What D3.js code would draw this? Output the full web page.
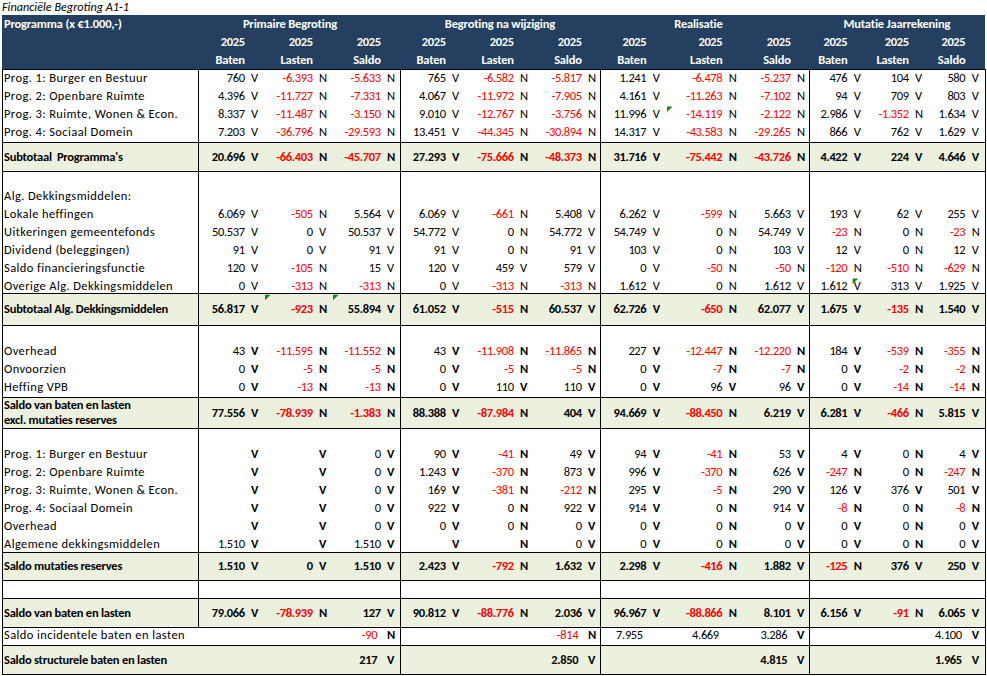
<!DOCTYPE html>
<html><head><meta charset="utf-8">
<script src="https://cdn.jsdelivr.net/npm/d3@7"></script>
<style>
html,body{margin:0;padding:0;background:#fff;}
svg{display:block;}
text{white-space:pre;}
</style></head><body>
<svg id="chart" width="987" height="676"></svg>
<script>
// ---------------- DATA ----------------
const title = "Financiële Begroting A1-1";
const headerLabel = "Programma (x €1.000,-)";
const groups = ["Primaire Begroting", "Begroting na wijziging", "Realisatie", "Mutatie Jaarrekening"];
const yearLabels = ["2025", "2025", "2025"];
const subHeaders = ["Baten", "Lasten", "Saldo"];

const rowLabels = [
  "Prog. 1: Burger en Bestuur", "Prog. 2: Openbare Ruimte", "Prog. 3: Ruimte, Wonen & Econ.", "Prog. 4: Sociaal Domein",
  "Subtotaal  Programma's", "",
  "Alg. Dekkingsmiddelen:", "Lokale heffingen", "Uitkeringen gemeentefonds", "Dividend (beleggingen)",
  "Saldo financieringsfunctie", "Overige Alg. Dekkingsmiddelen", "Subtotaal Alg. Dekkingsmiddelen", "",
  "Overhead", "Onvoorzien", "Heffing VPB", "Saldo van baten en lasten\nexcl. mutaties reserves", "",
  "Prog. 1: Burger en Bestuur", "Prog. 2: Openbare Ruimte", "Prog. 3: Ruimte, Wonen & Econ.", "Prog. 4: Sociaal Domein",
  "Overhead", "Algemene dekkingsmiddelen", "Saldo mutaties reserves", "",
  "Saldo van baten en lasten", "Saldo incidentele baten en lasten", "Saldo structurele baten en lasten"
];
// s = subtotal (bold, shaded, bordered), n = normal, b = blank
const rowKinds = ["n","n","n","n","s","b","n","n","n","n","n","n","s","b","n","n","n","s","b","n","n","n","n","n","n","s","b","s","n","s"];

// Primaire Begroting
const primaireBaten  = [760,4396,8337,7203,20696,null,null,6069,50537,91,120,0,56817,null,43,0,0,77556,null,null,null,null,null,null,1510,1510,null,79066,null,null];
const primaireBatenMk= ["V","V","V","V","V",null,null,"V","V","V","V","V","V",null,"V","V","V","V",null,"V","V","V","V","V","V","V",null,"V",null,null];
const primaireLasten = [-6393,-11727,-11487,-36796,-66403,null,null,-505,0,0,-105,-313,-923,null,-11595,-5,-13,-78939,null,null,null,null,null,null,null,0,null,-78939,null,null];
const primaireLastenMk=["N","N","N","N","N",null,null,"N","V","V","N","N","N",null,"N","N","N","N",null,"V","V","V","V","V","V","V",null,"N",null,null];
const primaireSaldo  = [-5633,-7331,-3150,-29593,-45707,null,null,5564,50537,91,15,-313,55894,null,-11552,-5,-13,-1383,null,0,0,0,0,0,1510,1510,null,127,-90,217];
const primaireSaldoMk= ["N","N","N","N","N",null,null,"V","V","V","V","N","V",null,"N","N","N","N",null,"V","V","V","V","V","V","V",null,"V","N","V"];
// Begroting na wijziging
const wijzigingBaten  = [765,4067,9010,13451,27293,null,null,6069,54772,91,120,0,61052,null,43,0,0,88388,null,90,1243,169,922,0,null,2423,null,90812,null,null];
const wijzigingBatenMk= ["V","V","V","V","V",null,null,"V","V","V","V","V","V",null,"V","V","V","V",null,"V","V","V","V","V","V","V",null,"V",null,null];
const wijzigingLasten = [-6582,-11972,-12767,-44345,-75666,null,null,-661,0,0,459,-313,-515,null,-11908,-5,110,-87984,null,-41,-370,-381,0,0,null,-792,null,-88776,null,null];
const wijzigingLastenMk=["N","N","N","N","N",null,null,"N","N","N","V","N","N",null,"N","N","V","N",null,"N","N","N","N","N","N","N",null,"N",null,null];
const wijzigingSaldo  = [-5817,-7905,-3756,-30894,-48373,null,null,5408,54772,91,579,-313,60537,null,-11865,-5,110,404,null,49,873,-212,922,0,0,1632,null,2036,-814,2850];
const wijzigingSaldoMk= ["N","N","N","N","N",null,null,"V","V","V","V","N","V",null,"N","N","V","V",null,"V","V","N","V","V","V","V",null,"V","N","V"];
// Realisatie
const realisatieBaten  = [1241,4161,11996,14317,31716,null,null,6262,54749,103,0,1612,62726,null,227,0,0,94669,null,94,996,295,914,0,0,2298,null,96967,7955,null];
const realisatieBatenMk= ["V","V","V","V","V",null,null,"V","V","V","V","V","V",null,"V","V","V","V",null,"V","V","V","V","V","V","V",null,"V",null,null];
const realisatieLasten = [-6478,-11263,-14119,-43583,-75442,null,null,-599,0,0,-50,0,-650,null,-12447,-7,96,-88450,null,-41,-370,-5,0,0,0,-416,null,-88866,4669,null];
const realisatieLastenMk=["N","N","N","N","N",null,null,"N","N","N","N","N","N",null,"N","N","V","N",null,"N","N","N","N","N","N","N",null,"N",null,null];
const realisatieSaldo  = [-5237,-7102,-2122,-29265,-43726,null,null,5663,54749,103,-50,1612,62077,null,-12220,-7,96,6219,null,53,626,290,914,0,0,1882,null,8101,3286,4815];
const realisatieSaldoMk= ["N","N","N","N","N",null,null,"V","V","V","N","V","V",null,"N","N","V","V",null,"V","V","V","V","V","V","V",null,"V","V","V"];
// Mutatie Jaarrekening
const mutatieBaten  = [476,94,2986,866,4422,null,null,193,-23,12,-120,1612,1675,null,184,0,0,6281,null,4,-247,126,-8,0,0,-125,null,6156,null,null];
const mutatieBatenMk= ["V","V","V","V","V",null,null,"V","N","V","N","V","V",null,"V","V","V","V",null,"V","N","V","N","V","V","N",null,"V",null,null];
const mutatieLasten = [104,709,-1352,762,224,null,null,62,0,0,-510,313,-135,null,-539,-2,-14,-466,null,0,0,376,0,0,0,376,null,-91,null,null];
const mutatieLastenMk=["V","V","N","V","V",null,null,"V","N","N","N","V","N",null,"N","N","N","N",null,"N","N","V","N","N","N","V",null,"N",null,null];
const mutatieSaldo  = [580,803,1634,1629,4646,null,null,255,-23,12,-629,1925,1540,null,-355,-2,-14,5815,null,4,-247,501,-8,0,0,250,null,6065,4100,1965];
const mutatieSaldoMk= ["V","V","V","V","V",null,null,"V","N","V","N","V","V",null,"N","N","N","V",null,"V","N","V","N","V","V","V",null,"V","V","V"];

// error-indicator flags: [row, column, part]
const errorFlags = [[2, 7, "v"], [11, 9, "m"], [12, 1, "v"], [12, 2, "v"]];

// ---------------- LAYOUT ----------------
const valueCols = [primaireBaten, primaireLasten, primaireSaldo, wijzigingBaten, wijzigingLasten, wijzigingSaldo,
                   realisatieBaten, realisatieLasten, realisatieSaldo, mutatieBaten, mutatieLasten, mutatieSaldo];
const markerCols = [primaireBatenMk, primaireLastenMk, primaireSaldoMk, wijzigingBatenMk, wijzigingLastenMk, wijzigingSaldoMk,
                    realisatieBatenMk, realisatieLastenMk, realisatieSaldoMk, mutatieBatenMk, mutatieLastenMk, mutatieSaldoMk];

const tableLeft = 2, tableRight = 985, labelColW = 196;
const headerTop = 15, headerRowH = 18;
const cellWidths = [[51,15,53,15,53,15],[50,16,52,16,52,14],[50.7,15.3,60.7,14.3,54,14],[42.7,14.3,47,14,42.7,15.3]];
const titleShift = [-9, 0, -6, 0];
const rowHeights = [18,18,18,18.7,29,16.3,18,18,18,18,18,16.3,31.7,17,18,18,19,31.3,16.7,18,18,18,18,18,16.7,28.3,18.3,28.4,18.3,29];

const NAVY = "#243F60", SHADE = "#EBF1DE", RED = "#FF0000";
const FONT = "Calibri, Carlito, Lato, 'Open Sans', sans-serif";
const FS = 12.5;

const svg = d3.select("#chart");
const fmt = d3.formatLocale({decimal: ",", thousands: ".", grouping: [3], currency: ["€", ""], minus: "-"}).format(",d");

function measure(str, size, weight, style) {
  const t = svg.append("text").attr("font-family", FONT).attr("font-size", size)
    .attr("font-weight", weight || "normal").attr("font-style", style || "normal").text(str);
  const w = t.node().getComputedTextLength(); t.remove(); return w;
}
const clamp = (v, a, b) => Math.max(a, Math.min(b, v));
const lsFor = (str, target, weight) => clamp((target - measure(str, FS, weight)) / str.length, -0.8, 2);
const LSN = lsFor("11.996", 32.7, "normal");
const LS = lsFor("Overige Alg. Dekkingsmiddelen", 169, "normal");
const LSB = lsFor("Subtotaal Alg. Dekkingsmiddelen", 164, "bold");
const LSH = lsFor("Begroting na wijziging", 110, "bold");
const TFS = clamp(12 * 127 / measure(title, 12, "normal", "italic"), 9, 14);

// column geometry
const cols = []; const groupEdges = [tableLeft + labelColW];
let cx = tableLeft + labelColW;
cellWidths.forEach((ws, g) => {
  for (let k = 0; k < 3; k++) {
    const vStart = cx; cx += ws[2 * k];
    const mStart = cx; cx += ws[2 * k + 1];
    cols.push({g, k, vStart, valueRight: mStart - 4, mStart, markerLeft: mStart + 2});
  }
  groupEdges.push(cx);
});

// row geometry via ordinal scale
const rowIdx = d3.range(rowLabels.length);
const dataTop = headerTop + 3 * headerRowH;
const tops = [0, ...Array.from(d3.cumsum(rowHeights))].map(v => v + dataTop);
const yTop = d3.scaleOrdinal().domain(rowIdx).range(tops.slice(0, -1));
const yH = d3.scaleOrdinal().domain(rowIdx).range(rowHeights);
const tableBottom = tops[tops.length - 1];
const baseline = r => rowKinds[r] === "s" ? yTop(r) + yH(r) / 2 + 4.3 : yTop(r) + 12.7;

// ---------------- DRAW ----------------
svg.append("text").attr("x", 2).attr("y", 10.7).attr("font-family", FONT).attr("font-size", TFS)
  .attr("font-style", "italic").attr("fill", "#000").text(title);

// header
svg.append("rect").attr("x", tableLeft).attr("y", headerTop).attr("width", tableRight - tableLeft)
  .attr("height", 3 * headerRowH).attr("fill", NAVY);
const hdr = svg.append("g").attr("font-family", FONT).attr("font-size", FS).attr("font-weight", "bold").attr("fill", "#fff");
hdr.append("text").attr("x", 4).attr("y", headerTop + 13.3).attr("letter-spacing", LSH).text(headerLabel);
hdr.selectAll(".gt").data(groups).join("text").attr("class", "gt")
  .attr("x", (d, i) => (groupEdges[i] + groupEdges[i + 1]) / 2 + titleShift[i] + LSH / 2)
  .attr("y", headerTop + 13.3).attr("text-anchor", "middle").attr("letter-spacing", LSH).text(d => d);
hdr.selectAll(".yr").data(cols).join("text").attr("class", "yr")
  .attr("x", d => d.valueRight + LSN).attr("y", headerTop + headerRowH + 12.5).attr("text-anchor", "end")
  .attr("letter-spacing", LSN).text(d => yearLabels[d.k]);
hdr.selectAll(".sh").data(cols).join("text").attr("class", "sh")
  .attr("x", d => d.valueRight + LSH).attr("y", headerTop + 2 * headerRowH + 12.8).attr("text-anchor", "end")
  .attr("letter-spacing", LSH).text(d => subHeaders[d.k]);

// shading
svg.append("g").selectAll("rect").data(rowIdx.filter(r => rowKinds[r] === "s")).join("rect")
  .attr("x", tableLeft).attr("y", r => yTop(r)).attr("width", tableRight - tableLeft).attr("height", r => yH(r))
  .attr("fill", SHADE);

// borders
const lines = svg.append("g").attr("stroke", "#000").attr("stroke-width", 1).attr("shape-rendering", "crispEdges");
const hY = new Set([Math.round(dataTop), Math.round(tableBottom)]);
rowIdx.forEach(r => { if (rowKinds[r] === "s") { hY.add(Math.round(yTop(r))); hY.add(Math.round(yTop(r) + yH(r))); } });
lines.selectAll(".h").data([...hY]).join("line").attr("class", "h")
  .attr("x1", tableLeft).attr("x2", tableRight + 1).attr("y1", d => d + 0.5).attr("y2", d => d + 0.5);
const vLines = [{x: tableLeft, y2: tableBottom}, {x: tableRight, y2: tableBottom},
  {x: groupEdges[0], y2: yTop(27) + yH(27)}].concat(groupEdges.slice(1, 4).map(x => ({x, y2: tableBottom})));
lines.selectAll(".v").data(vLines).join("line").attr("class", "v")
  .attr("x1", d => Math.round(d.x) + 0.5).attr("x2", d => Math.round(d.x) + 0.5)
  .attr("y1", Math.round(dataTop)).attr("y2", d => Math.round(d.y2) + 0.5);

// labels
const lab = svg.append("g").attr("font-family", FONT).attr("font-size", FS).attr("fill", "#000");
rowIdx.forEach(r => {
  const txt = rowLabels[r]; if (!txt) return;
  const parts = txt.split("\n");
  const bold = rowKinds[r] === "s";
  const t = lab.append("text").attr("x", 4).attr("font-weight", bold ? "bold" : "normal")
    .attr("letter-spacing", bold ? LSB : LS);
  if (parts.length === 1) t.attr("y", baseline(r)).text(txt);
  else {
    const c = yTop(r) + yH(r) / 2;
    parts.forEach((p, i) => t.append("tspan").attr("x", 4).attr("y", c + 4.3 + (i === 0 ? -7.5 : 7.5)).text(p));
  }
});

// values and markers
const cells = [];
rowIdx.forEach(r => cols.forEach((c, ci) => {
  const v = valueCols[ci][r], m = markerCols[ci][r];
  if (v === null && m === null) return;
  cells.push({r, c, v, m});
}));
const vg = svg.append("g").attr("font-family", FONT).attr("font-size", FS);
vg.selectAll(".val").data(cells.filter(d => d.v !== null)).join("text").attr("class", "val")
  .attr("x", d => d.c.valueRight + LSN - (d.r >= 28 ? 3.5 : 0)).attr("y", d => baseline(d.r))
  .attr("text-anchor", "end").attr("letter-spacing", LSN)
  .attr("font-weight", d => rowKinds[d.r] === "s" ? "bold" : "normal")
  .attr("fill", d => d.v < 0 ? RED : "#000").text(d => fmt(d.v));
vg.selectAll(".mk").data(cells.filter(d => d.m !== null)).join("text").attr("class", "mk")
  .attr("x", d => d.c.markerLeft).attr("y", d => baseline(d.r))
  .attr("font-weight", d => (rowKinds[d.r] === "s" || d.r >= 14) ? "bold" : "normal")
  .attr("fill", "#000").text(d => d.m);

// error indicators
svg.append("g").selectAll("path").data(errorFlags).join("path")
  .attr("d", ([r, ci, part]) => {
    const x = (part === "v" ? cols[ci].vStart : cols[ci].mStart) + 1, y = yTop(r) + 1.5;
    return `M${x},${y}L${x + 5.5},${y}L${x},${y + 5.5}Z`;
  }).attr("fill", "#138a13");
</script>
</body></html>
